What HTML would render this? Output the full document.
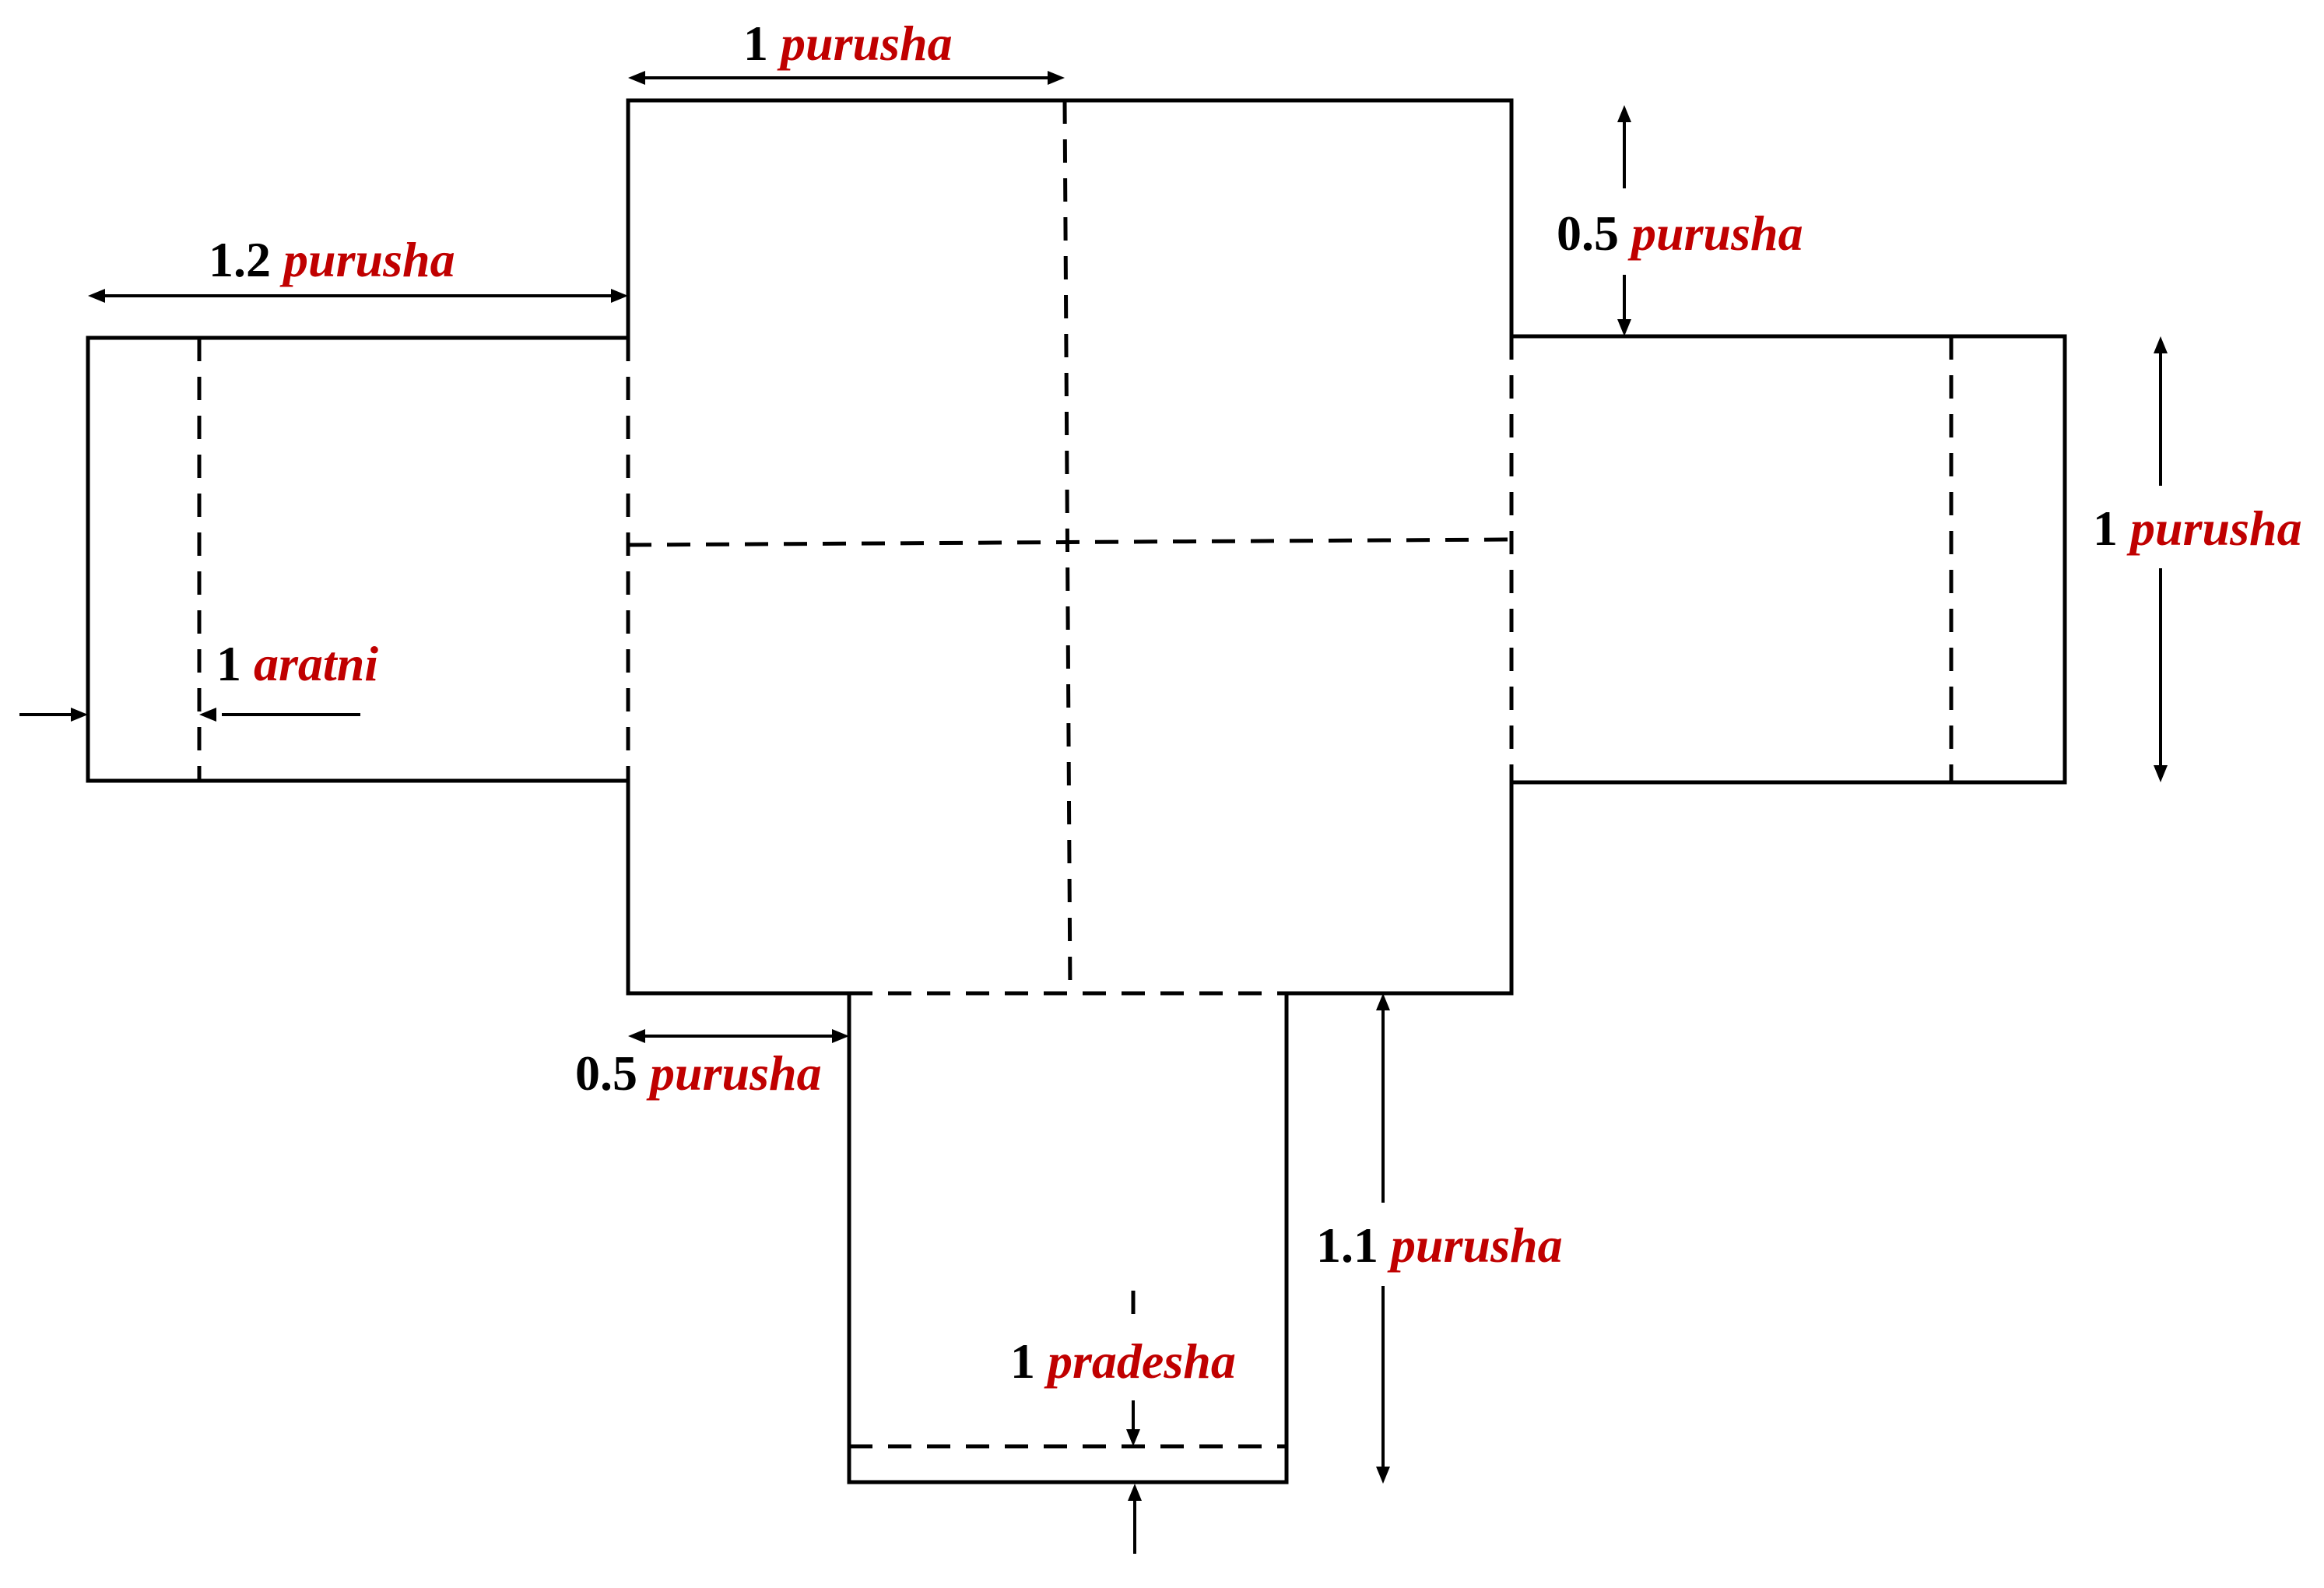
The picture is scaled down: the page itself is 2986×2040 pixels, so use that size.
<!DOCTYPE html>
<html><head><meta charset="utf-8"><style>
html,body{margin:0;padding:0;background:#fff;}
svg{display:block;}
text{font-family:"Liberation Serif",serif;font-weight:bold;font-size:64px;}
.r{fill:#c00000;font-style:italic;}
</style></head><body>
<svg width="2986" height="2040" viewBox="0 0 2986 2040" xmlns="http://www.w3.org/2000/svg">
<defs>
<marker id="a" viewBox="0 0 10 10" refX="10" refY="5" markerWidth="5" markerHeight="5" orient="auto-start-reverse" markerUnits="userSpaceOnUse" style="overflow:visible">
</marker>
</defs>
<g stroke="#000" stroke-width="5" fill="none" stroke-linecap="square">
<!-- solid outline -->
<polyline points="807,434 807,129 1942,129 1942,432"/>
<polyline points="807,434 113,434 113,1003 807,1003"/>
<polyline points="1942,432 2653,432 2653,1005 1942,1005"/>
<polyline points="807,1003 807,1276 1091,1276 1091,1904 1653,1904 1653,1276 1942,1276 1942,1005"/>
</g>
<g stroke="#000" stroke-width="5" fill="none" stroke-dasharray="30,20">
<line x1="807" y1="434" x2="807" y2="1003"/>
<line x1="1942" y1="432" x2="1942" y2="1005"/>
<line x1="256" y1="434" x2="256" y2="1003"/>
<line x1="2507" y1="432" x2="2507" y2="1005"/>
<line x1="1368" y1="129" x2="1375" y2="1276"/>
<line x1="807" y1="700" x2="1942" y2="693"/>
<line x1="1091" y1="1276" x2="1653" y2="1276"/>
<line x1="1091" y1="1858" x2="1653" y2="1858"/>
<line x1="1456" y1="1658" x2="1456" y2="1700"/>
</g>
<g stroke="#000" stroke-width="4" fill="none">
<line x1="825" y1="100" x2="1350" y2="100"/>
<line x1="130" y1="380" x2="790" y2="380"/>
<line x1="25" y1="918" x2="95" y2="918"/>
<line x1="285" y1="918" x2="463" y2="918"/>
<line x1="2087" y1="152" x2="2087" y2="242"/>
<line x1="2087" y1="353" x2="2087" y2="415"/>
<line x1="2776" y1="450" x2="2776" y2="624"/>
<line x1="2776" y1="730" x2="2776" y2="988"/>
<line x1="825" y1="1331" x2="1074" y2="1331"/>
<line x1="1777" y1="1293" x2="1777" y2="1545"/>
<line x1="1777" y1="1652" x2="1777" y2="1889"/>
<line x1="1456" y1="1799" x2="1456" y2="1840"/>
<line x1="1458" y1="1923" x2="1458" y2="1996"/>
</g>
<g fill="#000">
<!-- arrowheads -->
<polygon points="807,100 829,91 829,109"/>
<polygon points="1368,100 1346,91 1346,109"/>
<polygon points="113,380 135,371 135,389"/>
<polygon points="807,380 785,371 785,389"/>
<polygon points="113,918 91,909 91,927"/>
<polygon points="256,918 278,909 278,927"/>
<polygon points="2087,135 2078,157 2096,157"/>
<polygon points="2087,432 2078,410 2096,410"/>
<polygon points="2776,432 2767,454 2785,454"/>
<polygon points="2776,1005 2767,983 2785,983"/>
<polygon points="807,1331 829,1322 829,1340"/>
<polygon points="1091,1331 1069,1322 1069,1340"/>
<polygon points="1777,1276 1768,1298 1786,1298"/>
<polygon points="1777,1906 1768,1884 1786,1884"/>
<polygon points="1456,1858 1447,1836 1465,1836"/>
<polygon points="1458,1906 1449,1928 1467,1928"/>
</g>
<text x="955" y="77">1 <tspan class="r">purusha</tspan></text>
<text x="268" y="355">1.2 <tspan class="r">purusha</tspan></text>
<text x="278" y="874">1 <tspan class="r">aratni</tspan></text>
<text x="2000" y="321">0.5 <tspan class="r">purusha</tspan></text>
<text x="2689" y="700">1 <tspan class="r">purusha</tspan></text>
<text x="739" y="1400">0.5 <tspan class="r">purusha</tspan></text>
<text x="1691" y="1621">1.1 <tspan class="r">purusha</tspan></text>
<text x="1298" y="1770">1 <tspan class="r">pradesha</tspan></text>
</svg>
</body></html>
